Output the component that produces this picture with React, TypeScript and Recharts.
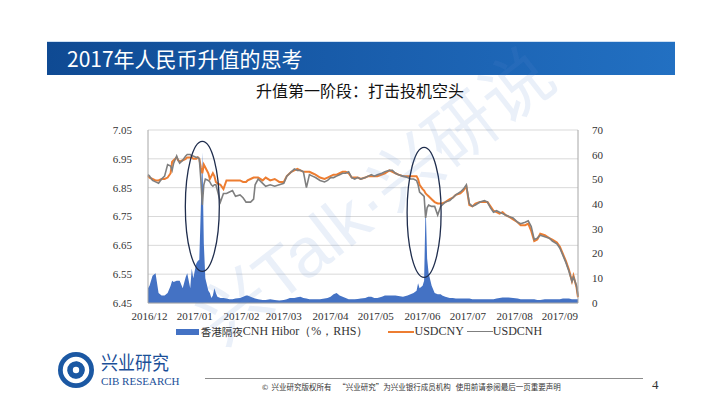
import React from "react";
import {
  ComposedChart,
  Area,
  Line,
  XAxis,
  YAxis,
  CartesianGrid,
  Legend,
  ReferenceDot,
} from "recharts";

// day offset from 2016-12-01
const days = [
  0, 1, 3, 5, 7, 9, 11, 13, 15, 16, 17, 19, 20, 21, 23, 25, 26, 28, 29, 30, 32, 33, 34, 35, 36, 37, 38,
  40, 41, 42, 43, 44, 45, 46, 48, 50, 52, 54, 56, 58, 61, 63, 65, 66, 68, 70, 71, 73, 76, 78, 81, 84,
  87, 90, 92, 94, 95, 97, 99, 101, 103, 105, 107, 109, 111, 114, 117, 119, 121, 123, 125, 127, 129,
  131, 133, 135, 137, 139, 141, 144, 146, 148, 150, 152, 155, 157, 160, 162, 164, 166, 169, 172, 174,
  176, 178, 179, 180, 182, 183, 184, 185, 186, 188, 190, 192, 194, 195, 197, 200, 202, 204, 207, 209,
  211, 213, 215, 217, 220, 223, 225, 227, 229, 231, 233, 235, 237, 239, 242, 245, 247, 250, 252, 254,
  256, 258, 260, 263, 266, 268, 271, 273, 275, 277, 279, 281, 282, 284, 285,
];

const usdcny = [
  6.89, 6.885, 6.88, 6.875, 6.875, 6.88, 6.88, 6.885, 6.9, 6.94, 6.945, 6.955, 6.945, 6.94, 6.945, 6.95,
  6.955, 6.955, 6.955, 6.95, 6.95, 6.955, 6.95, 6.92, 6.9, 6.93, 6.92,
  6.9, 6.88, 6.89, 6.9, 6.89, 6.87, 6.865, 6.86, 6.845, 6.875, 6.875, 6.875, 6.875, 6.875, 6.87, 6.87,
  6.875, 6.88, 6.885, 6.885, 6.885, 6.875, 6.885, 6.875, 6.88,
  6.87, 6.87, 6.89, 6.9, 6.905, 6.91, 6.915, 6.91, 6.905, 6.905, 6.905, 6.9, 6.895, 6.885, 6.88, 6.885,
  6.89, 6.895, 6.895, 6.9, 6.905,
  6.905, 6.9, 6.885, 6.885, 6.885, 6.88, 6.885, 6.89, 6.89, 6.89, 6.89, 6.895, 6.9, 6.91, 6.905, 6.9,
  6.895, 6.89, 6.89, 6.89,
  6.89, 6.89, 6.88, 6.86, 6.845, 6.84, 6.83, 6.825, 6.82, 6.81, 6.8, 6.795, 6.795, 6.795, 6.8, 6.81,
  6.815, 6.825, 6.83, 6.84,
  6.855, 6.79, 6.785, 6.795, 6.8, 6.8, 6.8, 6.785, 6.77, 6.765, 6.76, 6.765, 6.755, 6.75, 6.74, 6.73,
  6.72, 6.72, 6.725, 6.7,
  6.665, 6.67, 6.69, 6.685, 6.675, 6.67, 6.66, 6.645, 6.62, 6.595, 6.565, 6.525, 6.545, 6.505, 6.47,
];

const usdcnh = [
  6.895, 6.89, 6.875, 6.87, 6.865, 6.88, 6.89, 6.93, 6.925, 6.91, 6.935, 6.96, 6.945, 6.935, 6.945, 6.96,
  6.965, 6.965, 6.96, 6.96, 6.955, 6.955, 6.95, 6.88, 6.79, 6.86, 6.88,
  6.875, 6.87, 6.86, 6.855, 6.86, 6.86, 6.84, 6.8, 6.83, 6.83, 6.835, 6.84, 6.82, 6.825, 6.815, 6.8,
  6.8, 6.8, 6.81, 6.86, 6.88, 6.865, 6.855, 6.86, 6.855,
  6.86, 6.865, 6.89, 6.9, 6.905, 6.915, 6.91, 6.91, 6.905, 6.85, 6.895, 6.89, 6.885, 6.875, 6.87, 6.875,
  6.885, 6.885, 6.89, 6.895, 6.9,
  6.9, 6.905, 6.885, 6.88, 6.885, 6.88, 6.885, 6.89, 6.895, 6.89, 6.895, 6.9, 6.905, 6.91, 6.91, 6.9,
  6.895, 6.89, 6.885, 6.88,
  6.88, 6.875, 6.86, 6.835, 6.825, 6.82, 6.745, 6.78, 6.79, 6.785, 6.785, 6.755, 6.785, 6.79, 6.8, 6.805,
  6.815, 6.825, 6.835, 6.845,
  6.86, 6.795, 6.785, 6.79, 6.8, 6.805, 6.8, 6.78, 6.765, 6.77, 6.765, 6.76, 6.755, 6.75, 6.745, 6.73,
  6.725, 6.73, 6.735, 6.715,
  6.67, 6.675, 6.685, 6.68, 6.675, 6.665, 6.655, 6.64, 6.615, 6.59, 6.56, 6.525, 6.54, 6.51, 6.475,
];

const hibor = [
  6, 7, 11, 12, 4, 3, 3, 4, 7, 9, 8.5, 9, 9, 9, 6, 10.5, 12, 6, 14, 10, 16, 17, 17.5, 38, 61, 24, 10,
  5, 4, 2, 3, 6, 4, 2.5, 2, 2, 1.8, 1.5, 1.5, 1.8, 2, 2.5, 3, 3, 2.5, 2, 1.8, 1.5, 1.2, 1.2, 1.5, 1.2,
  1, 1.2, 1.5, 2, 2, 2, 2.3, 2.5, 2, 1.8, 1.5, 1.5, 1.5, 1.5, 1.8, 2, 2.5, 3.5, 4, 3, 2.5,
  2, 1.5, 1.5, 1.5, 1.6, 1.8, 2, 2.5, 2.5, 2, 2, 2.5, 3, 3, 3, 3, 2.8, 2.5, 3, 3.5,
  4, 5, 8, 6, 7, 9, 40, 18, 12, 7, 4, 3.5, 3.5, 3, 2.5, 2, 2, 1.8, 1.8, 1.8,
  1.8, 1.8, 1.5, 1.5, 1.5, 1.5, 1.5, 1.5, 1.5, 1.8, 2, 2.2, 2.2, 2.2, 2, 1.8, 1.5, 1.5, 1.5, 1.5,
  1.5, 1.2, 1.2, 1.5, 1.5, 1.5, 1.5, 1.5, 1.8, 1.8, 1.8, 1.5, 1.5, 1.5, 1.5,
];

const monthTicks = [1, 31, 62, 90, 121, 151, 182, 212, 243, 273];
const monthLabels = [
  "2016/12", "2017/01", "2017/02", "2017/03", "2017/04",
  "2017/05", "2017/06", "2017/07", "2017/08", "2017/09",
];
const leftTicks = [6.45, 6.55, 6.65, 6.75, 6.85, 6.95, 7.05];
const rightTicks = [0, 10, 20, 30, 40, 50, 60, 70];

// circled episodes: [day, USD/CNY level]
const highlights = [
  { day: 36, level: 6.785 },
  { day: 183, level: 6.764 },
];

const data = days.map((d, i) => ({
  day: d,
  cny: usdcny[i],
  cnh: usdcnh[i],
  hibor: hibor[i],
}));

const serif = "'Liberation Serif', 'Times New Roman', serif";
const cjk = "'Noto Sans CJK SC', sans-serif";

function LegendContent() {
  return (
    <div style={{ display: "flex", justifyContent: "center", alignItems: "center", fontFamily: serif, fontSize: 12, color: "#333" }}>
      <span style={{ width: 23, height: 6, background: "#4472c4", marginRight: 2 }} />
      <span style={{ fontFamily: cjk, fontSize: 10.5 }}>香港隔夜</span>
      <span style={{ marginRight: 20 }}>CNH Hibor（%，RHS）</span>
      <span style={{ width: 26, height: 2, background: "#ed7d31" }} />
      <span style={{ marginRight: 3 }}>USDCNY</span>
      <span style={{ width: 26, height: 1.5, background: "#7f7f7f" }} />
      <span>USDCNH</span>
    </div>
  );
}

function Logo() {
  return (
    <svg width="40" height="40" viewBox="0 0 40 40">
      <circle cx="20" cy="20" r="18" fill="#1b58a3" />
      <circle cx="20" cy="20" r="11" fill="none" stroke="#fff" strokeWidth="4.5" />
      <path d="M20 14 A6 6 0 1 1 14 20" fill="none" stroke="#1b58a3" strokeWidth="5" />
      <circle cx="20" cy="20" r="3.2" fill="#fff" />
    </svg>
  );
}

export default function App() {
  return (
    <div
      style={{
        position: "absolute",
        left: 0,
        top: 0,
        width: 720,
        height: 405,
        overflow: "hidden",
        background: "#fff",
      }}
    >
      {/* header bar */}
      <div
        style={{
          position: "absolute",
          left: 47,
          top: 41,
          width: 628,
          height: 33,
          background: "linear-gradient(90deg, #0f4a93 0%, #1a5fae 55%, #2270c2 100%)",
          borderTop: "1px solid #cfe0f3",
        }}
      />
      <div
        style={{
          position: "absolute",
          left: 67,
          top: 44,
          color: "#fff",
          fontFamily: cjk,
          fontSize: 21,
          lineHeight: "28px",
        }}
      >
        2017年人民币升值的思考
      </div>
      <div
        style={{
          position: "absolute",
          left: 0,
          width: 720,
          top: 78,
          textAlign: "center",
          fontFamily: cjk,
          fontSize: 16,
          color: "#111",
        }}
      >
        升值第一阶段：打击投机空头
      </div>

      <div style={{ position: "absolute", left: 100, top: 115 }}>
        <ComposedChart
          width={540}
          height={230}
          data={data}
          margin={{ top: 15, right: 22, bottom: 4, left: 0 }}
        >
          <CartesianGrid stroke="#d9d9d9" vertical={false} yAxisId="left" />
          <XAxis
            dataKey="day"
            type="number"
            domain={[0, 285]}
            ticks={monthTicks}
            tickFormatter={(v) => monthLabels[monthTicks.indexOf(v)] ?? ""}
            interval={0}
            tickLine={false}
            axisLine={{ stroke: "#a6a6a6" }}
            tick={{ fill: "#333", fontSize: 11, fontFamily: serif }}
            height={20}
            tickMargin={3}
          />
          <XAxis
            xAxisId="top"
            dataKey="day"
            type="number"
            domain={[0, 285]}
            orientation="top"
            tick={false}
            tickLine={false}
            axisLine={{ stroke: "#a6a6a6" }}
            height={0}
          />
          <YAxis
            yAxisId="left"
            domain={[6.45, 7.05]}
            ticks={leftTicks}
            tickFormatter={(v) => v.toFixed(2)}
            interval={0}
            tickLine={false}
            axisLine={{ stroke: "#a6a6a6" }}
            tick={{ fill: "#333", fontSize: 11, fontFamily: serif }}
            width={48}
            tickMargin={10}
          />
          <YAxis
            yAxisId="right"
            orientation="right"
            domain={[0, 70]}
            ticks={rightTicks}
            interval={0}
            tickLine={false}
            axisLine={{ stroke: "#a6a6a6" }}
            tick={{ fill: "#333", fontSize: 11, fontFamily: serif }}
            width={40}
            tickMargin={8}
          />
          <Area
            yAxisId="right"
            dataKey="hibor"
            name="香港隔夜CNH Hibor（%，RHS）"
            type="linear"
            stroke="none"
            fill="#4472c4"
            fillOpacity={1}
            isAnimationActive={false}
          />
          <Line
            yAxisId="left"
            dataKey="cny"
            name="USDCNY"
            type="linear"
            stroke="#ed7d31"
            strokeWidth={2}
            dot={false}
            isAnimationActive={false}
          />
          <Line
            yAxisId="left"
            dataKey="cnh"
            name="USDCNH"
            type="linear"
            stroke="#7f7f7f"
            strokeWidth={1.6}
            dot={false}
            isAnimationActive={false}
          />
          {highlights.map((h) => (
            <ReferenceDot
              key={h.day}
              yAxisId="left"
              x={h.day}
              y={h.level}
              r={1}
              shape={(p: { cx?: number; cy?: number }) => (
                <ellipse
                  cx={p.cx}
                  cy={p.cy}
                  rx={17}
                  ry={65}
                  fill="none"
                  stroke="#1f2d4d"
                  strokeWidth={1.3}
                />
              )}
            />
          ))}
          <Legend verticalAlign="bottom" height={18} content={<LegendContent />} />
        </ComposedChart>
      </div>

      {/* watermark */}
      <div
        style={{
          position: "absolute",
          left: 372,
          top: 192,
          transform: "translate(-50%, -50%) rotate(-38deg)",
          whiteSpace: "nowrap",
          fontFamily: "'Liberation Sans', " + cjk,
          fontSize: 70,
          color: "rgba(91, 140, 205, 0.13)",
          pointerEvents: "none",
        }}
      >
        兴Talk·兴研说
      </div>

      {/* footer */}
      <div style={{ position: "absolute", left: 56, top: 350 }}>
        <Logo />
      </div>
      <div
        style={{
          position: "absolute",
          left: 101,
          top: 349,
          fontFamily: cjk,
          fontSize: 17,
          color: "#1b4f98",
          lineHeight: "22px",
          transform: "scaleY(1.15)",
          transformOrigin: "left top",
        }}
      >
        兴业研究
      </div>
      <div
        style={{
          position: "absolute",
          left: 101,
          top: 375,
          fontFamily: serif,
          fontSize: 11,
          lineHeight: "13px",
          color: "#1b4f98",
        }}
      >
        CIB RESEARCH
      </div>
      <div
        style={{
          position: "absolute",
          left: 205,
          top: 378,
          width: 438,
          height: 1,
          background: "#8c8c8c",
        }}
      />
      <div
        style={{
          position: "absolute",
          left: 262,
          top: 381,
          fontFamily: cjk,
          fontSize: 7.5,
          color: "#333",
          whiteSpace: "nowrap",
        }}
      >
        ©&nbsp; 兴业研究版权所有 &nbsp;&nbsp; “兴业研究”为兴业银行成员机构 &nbsp; 使用前请参阅最后一页重要声明
      </div>
      <div
        style={{
          position: "absolute",
          left: 652,
          top: 377,
          fontFamily: serif,
          fontSize: 13,
          color: "#333",
        }}
      >
        4
      </div>
    </div>
  );
}
